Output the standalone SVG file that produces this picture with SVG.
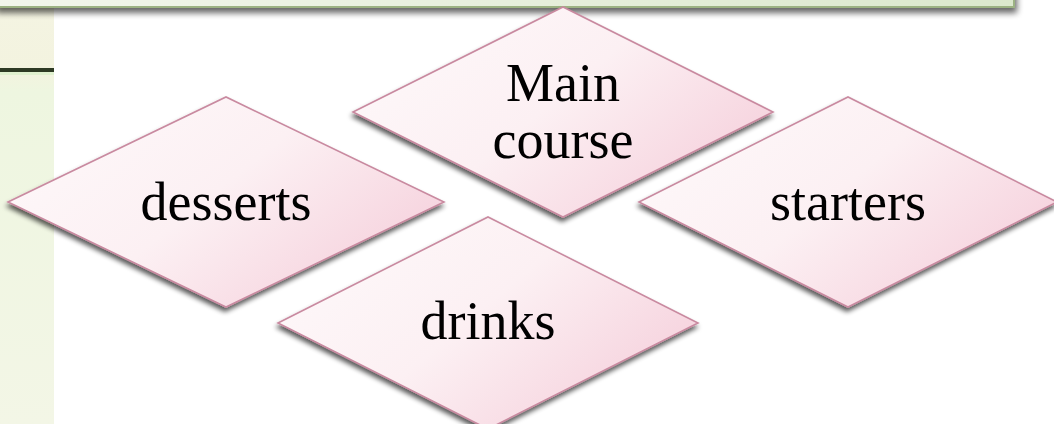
<svg xmlns="http://www.w3.org/2000/svg" width="1054" height="424" viewBox="0 0 1054 424">
  <style>
    .dia { fill: url(#pink); stroke: #c98aa0; stroke-width: 1.6; filter: url(#shadow); }
    .lbl { font-family: "Liberation Serif", "Times New Roman", serif; font-size: 54px; fill: #000; text-anchor: middle; }
  </style>
  <defs>
    <linearGradient id="pink" x1="0" y1="0" x2="1" y2="0.6">
      <stop offset="0" stop-color="#fefafb"/>
      <stop offset="0.55" stop-color="#fcf0f3"/>
      <stop offset="1" stop-color="#f6d3de"/>
    </linearGradient>
    <linearGradient id="green" x1="0" y1="0" x2="1" y2="0">
      <stop offset="0" stop-color="#f2f6ec"/>
      <stop offset="1" stop-color="#dbe8cd"/>
    </linearGradient>
    <linearGradient id="strip" x1="0" y1="0" x2="0" y2="1">
      <stop offset="0" stop-color="#f4f4e2"/>
      <stop offset="0.15" stop-color="#f3f3df"/>
      <stop offset="0.2" stop-color="#eef6e0"/>
      <stop offset="1" stop-color="#f3f6e6"/>
    </linearGradient>
    <filter id="shadow" x="-10%" y="-10%" width="120%" height="130%">
      <feGaussianBlur in="SourceAlpha" stdDeviation="2.5"/>
      <feOffset dx="-1" dy="4" result="b"/>
      <feComponentTransfer><feFuncA type="linear" slope="0.65"/></feComponentTransfer>
      <feMerge><feMergeNode/><feMergeNode in="SourceGraphic"/></feMerge>
    </filter>
    <filter id="boxshadow" x="-5%" y="-50%" width="110%" height="400%">
      <feGaussianBlur in="SourceAlpha" stdDeviation="3"/>
      <feOffset dx="2" dy="5"/>
      <feComponentTransfer><feFuncA type="linear" slope="0.6"/></feComponentTransfer>
      <feMerge><feMergeNode/><feMergeNode in="SourceGraphic"/></feMerge>
    </filter>
  </defs>
  <rect width="1054" height="424" fill="#ffffff"/>
  <!-- left textured strip -->
  <rect x="0" y="8" width="54" height="416" fill="url(#strip)"/>
  <rect x="0" y="68" width="54" height="4" fill="#2e3a24"/>
  <rect x="0" y="72" width="54" height="3" fill="#d9f0c8" opacity="0.7"/>
  <!-- top banner -->
  <rect x="-5" y="-30" width="1019" height="37" fill="url(#green)" stroke="#9cb283" stroke-width="2" filter="url(#boxshadow)"/>

  <g id="connectors"></g>

  <g id="node-main">
    <polygon class="dia" points="353,112 563,7 773,112 563,217"/>
    <text class="lbl" x="563" y="101">Main</text>
    <text class="lbl" x="563" y="158">course</text>
  </g>
  <g id="node-desserts">
    <polygon class="dia" points="8,202 226,97 444,202 226,307"/>
    <text class="lbl" x="226" y="220">desserts</text>
  </g>
  <g id="node-starters">
    <polygon class="dia" points="639,202 848,97 1057,202 848,307"/>
    <text class="lbl" x="848" y="220">starters</text>
  </g>
  <g id="node-drinks">
    <polygon class="dia" points="278,323 488,217 698,323 488,429"/>
    <text class="lbl" x="488" y="339">drinks</text>
  </g>
</svg>
